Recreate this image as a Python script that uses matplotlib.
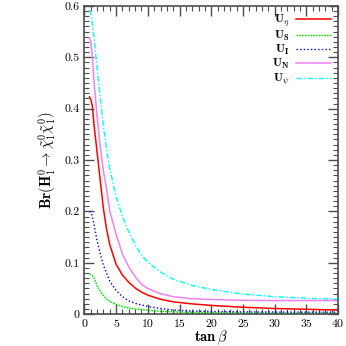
import matplotlib
matplotlib.use('Agg')
from matplotlib import pyplot as plt
from matplotlib.ticker import MultipleLocator, FuncFormatter

plt.rcParams['font.family'] = 'serif'
plt.rcParams['font.serif'] = ['cmr10', 'DejaVu Serif']
plt.rcParams['mathtext.fontset'] = 'cm'
plt.rcParams['axes.unicode_minus'] = False

# tan beta grid
tanb = [0.8, 1.0, 1.25, 1.5, 2.0, 2.5, 3.0, 3.5, 4.0, 5.0, 6.0, 7.0, 8.0,
        9.0, 10, 12, 14, 17, 20, 25, 30, 35, 40]

u_eta = [0.423, 0.418, 0.405, 0.37, 0.315, 0.26, 0.205, 0.165, 0.135, 0.097,
         0.076, 0.062, 0.051, 0.043, 0.037, 0.029, 0.024, 0.020, 0.017,
         0.0135, 0.011, 0.0095, 0.008]
u_s = [0.078, 0.077, 0.075, 0.071, 0.055, 0.045, 0.036, 0.029, 0.025, 0.019,
       0.015, 0.012, 0.010, 0.009, 0.0075, 0.0055, 0.0045, 0.0035, 0.003,
       0.0025, 0.002, 0.002, 0.002]
u_i = [0.200, 0.199, 0.19, 0.175, 0.143, 0.117, 0.095, 0.08, 0.064, 0.046,
       0.034, 0.026, 0.021, 0.018, 0.015, 0.011, 0.008, 0.006, 0.0052,
       0.0045, 0.0042, 0.004, 0.004]
u_n = [0.538, 0.53, 0.50, 0.455, 0.385, 0.325, 0.278, 0.243, 0.20, 0.155,
       0.117, 0.092, 0.073, 0.058, 0.050, 0.040, 0.034, 0.030, 0.0285,
       0.027, 0.0265, 0.0265, 0.0265]
u_psi = [0.592, 0.585, 0.565, 0.54, 0.48, 0.42, 0.365, 0.32, 0.283, 0.228,
         0.19, 0.16, 0.135, 0.115, 0.101, 0.082, 0.068, 0.056, 0.048, 0.039,
         0.034, 0.031, 0.029]

fig = plt.figure(figsize=(3.46, 3.46), dpi=100)
ax = fig.add_axes([0.244, 0.092, 0.733, 0.891])

ax.plot(tanb, u_eta, color='red', lw=1.1, ls='-', label=r'$\mathbf{U}_{\eta}$')
ax.plot(tanb, u_s, color='#00dd00', lw=1.0, ls=(0, (1.2, 0.8)), label=r'$\mathbf{U}_{\mathbf{S}}$')
ax.plot(tanb, u_i, color='blue', lw=1.0, ls=(0, (1, 1.6)), label=r'$\mathbf{U}_{\mathbf{I}}$')
ax.plot(tanb, u_n, color='violet', lw=1.1, ls='-', label=r'$\mathbf{U}_{\mathbf{N}}$')
ax.plot(tanb, u_psi, color='cyan', lw=1.0, ls=(0, (4, 1.5, 1, 1.5)), label=r'$\mathbf{U}_{\psi}$')

ax.set_xlim(0, 40)
ax.set_ylim(0, 0.6)
ax.xaxis.set_major_locator(MultipleLocator(5))
ax.xaxis.set_minor_locator(MultipleLocator(1))
ax.yaxis.set_major_locator(MultipleLocator(0.1))
ax.yaxis.set_minor_locator(MultipleLocator(0.01))
ax.yaxis.set_major_formatter(FuncFormatter(lambda v, p: '%g' % round(v, 2)))

for s in ax.spines.values():
    s.set_color('0.3')
    s.set_linewidth(1.2)
ax.tick_params(which='both', direction='in', top=True, right=True, colors='0.3',
               labelcolor='black', labelsize=8.5)
ax.tick_params(which='major', length=7, width=1.0)
ax.tick_params(which='minor', length=3.5, width=0.8)

ax.set_xlabel(r'$\mathbf{tan}\,\beta$', fontsize=10.5, labelpad=0)
ax.set_ylabel(r'$\mathbf{Br(H_1^0\rightarrow}\tilde{\chi}_1^0\tilde{\chi}_1^0\mathbf{)}$',
              fontsize=10.5, labelpad=4)

ax.legend(loc='upper right', frameon=False, markerfirst=False, fontsize=8.5,
          handlelength=3.0, labelspacing=0.0, borderaxespad=0.2,
          handletextpad=0.5)

fig.savefig('out.png', dpi=100)
